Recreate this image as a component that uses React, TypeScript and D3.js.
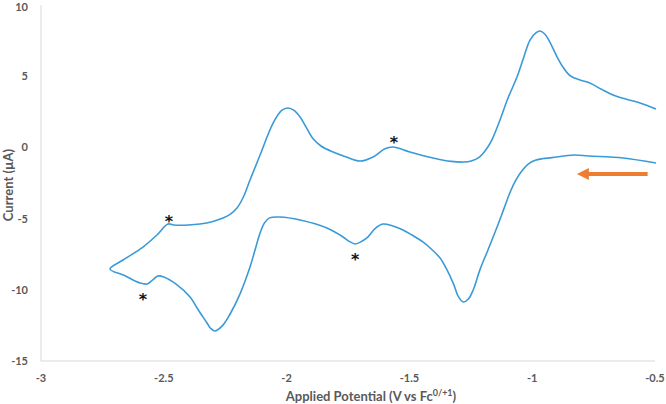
import React from "react";
import * as d3 from "d3";

// cathodic sweep, from -0.5 V going negative (V, µA)
const forwardScan: [number, number][] = [
  [-0.496, -1.1], [-0.63, -0.74], [-0.77, -0.6], [-0.83, -0.53], [-0.92, -0.72],
  [-0.96, -0.8], [-0.99, -0.92], [-1.015, -1.15], [-1.04, -1.6], [-1.065, -2.25],
  [-1.09, -3.15], [-1.115, -4.3], [-1.143, -5.59], [-1.18, -7.2], [-1.213, -8.6],
  [-1.24, -10.0], [-1.26, -10.65], [-1.28, -10.86], [-1.3, -10.5], [-1.32, -9.6],
  [-1.35, -8.5], [-1.375, -7.77], [-1.41, -7.15], [-1.445, -6.64], [-1.49, -6.15],
  [-1.526, -5.8], [-1.57, -5.5], [-1.608, -5.38], [-1.64, -5.7], [-1.673, -6.36],
  [-1.7, -6.65], [-1.721, -6.78], [-1.745, -6.6], [-1.77, -6.29], [-1.836, -5.66],
  [-1.945, -5.1], [-2.027, -4.89], [-2.07, -4.95], [-2.09, -5.3], [-2.108, -6.01],
  [-2.13, -7.3], [-2.149, -8.4], [-2.19, -10.3], [-2.23, -11.7], [-2.26, -12.5],
  [-2.292, -12.89], [-2.31, -12.7], [-2.324, -12.33], [-2.36, -11.4], [-2.393, -10.5],
  [-2.45, -9.6], [-2.5, -9.1], [-2.524, -9.03], [-2.545, -9.3], [-2.568, -9.59],
  [-2.597, -9.52], [-2.66, -9.0], [-2.719, -8.54],
];

// anodic sweep, back from the switching potential
const reverseScan: [number, number][] = [
  [-2.666, -7.91], [-2.585, -7.0], [-2.528, -6.15], [-2.483, -5.38], [-2.46, -5.45],
  [-2.4, -5.45], [-2.353, -5.38], [-2.3, -5.2], [-2.259, -4.96], [-2.23, -4.7],
  [-2.202, -4.26], [-2.175, -3.45], [-2.149, -2.29], [-2.108, -0.53], [-2.055, 1.71],
  [-2.02, 2.6], [-1.994, 2.77], [-1.97, 2.6], [-1.945, 2.13], [-1.92, 1.4],
  [-1.892, 0.6], [-1.86, 0.1], [-1.811, -0.32], [-1.76, -0.65], [-1.701, -0.96],
  [-1.648, -0.67], [-1.6, -0.1], [-1.567, 0.03], [-1.498, -0.32], [-1.404, -0.74],
  [-1.33, -0.98], [-1.28, -1.03], [-1.245, -0.93], [-1.215, -0.68], [-1.19, -0.2],
  [-1.165, 0.5], [-1.131, 1.93], [-1.1, 3.4], [-1.062, 4.94], [-1.035, 6.3],
  [-1.009, 7.54], [-0.985, 8.05], [-0.968, 8.17], [-0.948, 7.95], [-0.928, 7.4],
  [-0.9, 6.4], [-0.875, 5.65], [-0.85, 5.1], [-0.825, 4.85], [-0.805, 4.73],
  [-0.765, 4.52], [-0.72, 4.1], [-0.671, 3.68], [-0.61, 3.35], [-0.561, 3.12],
  [-0.496, 2.7],
];

const xTicks = [-3, -2.5, -2, -1.5, -1, -0.5];
const yTicks = [-15, -10, -5, 0, 5, 10];

// asterisk marks (V, µA)
const starMarks: [number, number][] = [
  [-2.479, -4.89], [-2.585, -10.37], [-1.563, 0.66], [-1.721, -7.56],
];

// scan direction arrow: tail -> tip (V, µA)
const arrowTail: [number, number] = [-0.53, -1.87];
const arrowTip: [number, number] = [-0.818, -1.87];

export default function App() {
  const width = 666;
  const height = 404;
  const x = d3.scaleLinear().domain([-3, -0.5]).range([41, 655]);
  const y = d3.scaleLinear().domain([-15, 10]).range([361, 5]);

  const line = d3
    .line<[number, number]>()
    .x((d) => x(d[0]))
    .y((d) => y(d[1]))
    .curve(d3.curveCatmullRom.alpha(0.5));

  const scan = [...forwardScan, ...reverseScan];
  const grey = "#595959";
  const font = "Lato, 'Open Sans', sans-serif";

  const tipX = x(arrowTip[0]);
  const tailX = x(arrowTail[0]);
  const ay = y(arrowTip[1]);
  const headLen = 12;

  return (
    <svg
      width={width}
      height={height}
      viewBox={`0 0 ${width} ${height}`}
      style={{ position: "absolute", left: 0, top: 0, background: "#fff" }}
      fontFamily={font}
    >
      {/* axes */}
      <line x1={x(-3)} x2={x(-3)} y1={y(10)} y2={y(-15)} stroke="#d9d9d9" strokeWidth={1} />
      <line x1={x(-3)} x2={x(-0.5)} y1={y(-15)} y2={y(-15)} stroke="#d9d9d9" strokeWidth={1} />

      {yTicks.map((t) => (
        <text
          key={`y-${t}`}
          x={28}
          y={Math.max(y(t) + 4, 11)}
          textAnchor="end"
          fontSize={11}
          fontWeight="bold"
          fill={grey}
        >
          {t}
        </text>
      ))}
      {xTicks.map((t) => (
        <text
          key={`x-${t}`}
          x={x(t)}
          y={382}
          textAnchor="middle"
          fontSize={11}
          fontWeight="bold"
          fill={grey}
        >
          {t}
        </text>
      ))}

      <text
        transform={`translate(13, ${185}) rotate(-90)`}
        textAnchor="middle"
        fontSize={13}
        fontWeight="bold"
        fill={grey}
      >
        Current (µA)
      </text>
      <text x={371} y={401} textAnchor="middle" fontSize={13} fontWeight="bold" fill={grey}>
        Applied Potential (V vs Fc
        <tspan dy={-5} fontSize={9}>0/+1</tspan>
        <tspan dy={5}>)</tspan>
      </text>

      <path d={line(scan) ?? ""} fill="none" stroke="#3a9ad8" strokeWidth={1.6} />

      {starMarks.map(([v, i], k) => (
        <text
          key={`s-${k}`}
          x={x(v)}
          y={y(i) + 10}
          textAnchor="middle"
          fontSize={16}
          fontWeight="bold"
          fontFamily="'DejaVu Sans', sans-serif"
          fill="#111"
        >
          *
        </text>
      ))}

      {/* scan direction */}
      <line x1={tailX} x2={tipX + headLen - 1} y1={ay} y2={ay} stroke="#ed7d31" strokeWidth={4} />
      <path
        d={`M${tipX},${ay} L${tipX + headLen},${ay - 6} L${tipX + headLen},${ay + 6} Z`}
        fill="#ed7d31"
      />
    </svg>
  );
}
